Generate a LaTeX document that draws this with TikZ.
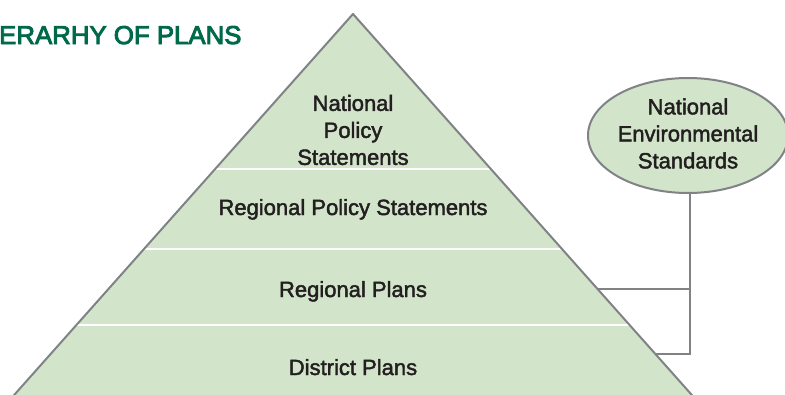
\documentclass[tikz,border=0pt]{standalone}
\usepackage{fontspec}
\setmainfont{Liberation Sans}
\newfontfamily\medfont{Liberation Sans}[FakeBold=2]
\newfontfamily\titlefont{Liberation Sans}[FakeBold=3.5]
\usetikzlibrary{shapes.geometric}
\definecolor{pyrfill}{HTML}{D2E5CB}
\definecolor{edgegray}{HTML}{808285}
\definecolor{titlegreen}{HTML}{00694A}
\definecolor{txt}{HTML}{231F20}
\begin{document}
\begin{tikzpicture}[x=1pt,y=-1pt,
  lbl/.style={text=txt, font=\medfont\fontsize{22}{27}\selectfont, align=center, inner sep=0pt},
  conn/.style={draw=edgegray, line width=2pt},
  sep/.style={draw=white, line width=2pt},
]
\useasboundingbox (0,0) rectangle (785,394);
\clip (0,0) rectangle (785,394);
% pyramid
\coordinate (apex) at (353,14);
\coordinate (bl) at (9.7,400);
\coordinate (br) at (696.3,400);
\fill[pyrfill] (apex) -- (bl) -- (br) -- cycle;
\begin{scope}
  \clip (apex) -- (bl) -- (br) -- cycle;
  \draw[sep] (0,169) -- (785,169);
  \draw[sep] (0,248.5) -- (785,248.5);
  \draw[sep] (0,325) -- (785,325);
\end{scope}
% connectors
\node[ellipse, draw=edgegray, fill=pyrfill, line width=2pt, minimum width=200pt, minimum height=115pt, inner sep=0pt] (nes) at (688,135.5) {};
\coordinate (j1) at (690,289);
\coordinate (j2) at (690,354);
\coordinate (e1) at (597.6,289);
\coordinate (e2) at (655.4,354);
\draw[conn] (nes.south -| j2) -- (j2) -- (e2);
\draw[conn] (j1) -- (e1);
\draw[edgegray, line width=2pt, line join=round] (bl) -- (apex) -- (br);
% labels
\node[lbl] (nps) at (353,130) {National\\Policy\\Statements};
\node[lbl, anchor=base] (rps) at (353,215) {Regional Policy Statements};
\node[lbl, anchor=base] (rp) at (353,297) {Regional Plans};
\node[lbl, anchor=base] (dp) at (353,375) {District Plans};
\node[lbl] (nestxt) at (688,133.5) {National\\Environmental\\Standards};
% title
\node[anchor=base west, inner sep=0pt, text=titlegreen, font=\titlefont\fontsize{25.8}{30}\selectfont] (title) at (-1,44) {ERARHY OF PLANS};
\end{tikzpicture}
\end{document}
